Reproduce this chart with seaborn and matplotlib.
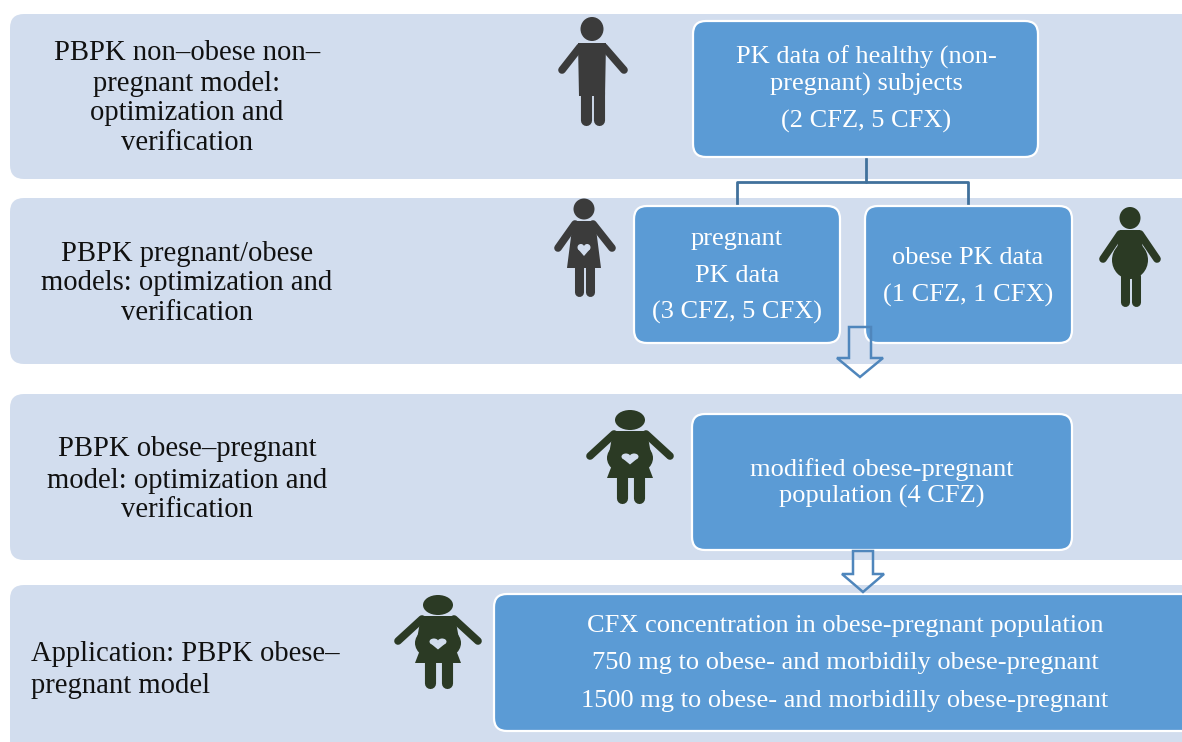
import seaborn as sns
from matplotlib import pyplot as plt
from matplotlib.patches import FancyBboxPatch, Ellipse, Polygon

# text of the diagram
band_labels = [
    ["PBPK non\u2013obese non\u2013", "pregnant model:", "optimization and", "verification"],
    ["PBPK pregnant/obese", "models: optimization and", "verification"],
    ["PBPK obese\u2013pregnant", "model: optimization and", "verification"],
    ["Application: PBPK obese\u2013", "pregnant model"],
]
box_labels = [
    ["PK data of healthy (non-", "pregnant) subjects", "(2 CFZ, 5 CFX)"],
    ["pregnant", "PK data", "(3 CFZ, 5 CFX)"],
    ["obese PK data", "(1 CFZ, 1 CFX)"],
    ["modified obese-pregnant", "population (4 CFZ)"],
    ["CFX concentration in obese-pregnant population",
     "750 mg to obese- and morbidily obese-pregnant",
     "1500 mg to obese- and morbidilly obese-pregnant"],
]

band_color = "#D2DDEE"
box_color = "#5B9BD5"
line_color = "#41719C"
grey_person = "#3B3B3B"
green_person = "#2B3A24"

sns.set_theme(style="white")
plt.rcParams['font.family'] = ['Liberation Serif', 'DejaVu Serif']

fig, ax = plt.subplots(figsize=(11.82, 7.42), dpi=100)
ax.set_position([0, 0, 1, 1])
ax.set_xlim(0, 1182)
ax.set_ylim(742, 0)
ax.axis('off')

# background bands
bands = [(10, 14, 1300, 165), (10, 198, 1300, 166), (10, 394, 1300, 166), (10, 585, 1300, 170)]
for x, y, w, h in bands:
    ax.add_patch(FancyBboxPatch((x + 14, y + 14), w - 28, h - 28, boxstyle="round,pad=14,rounding_size=14",
                                fc=band_color, ec='none', zorder=1))

# blue boxes
boxes = [(693, 21, 345, 136), (634, 206, 206, 137), (865, 206, 207, 137), (692, 414, 380, 136), (494, 594, 800, 137)]
for x, y, w, h in boxes:
    ax.add_patch(FancyBboxPatch((x + 13, y + 13), w - 26, h - 26, boxstyle="round,pad=13,rounding_size=13",
                                fc=box_color, ec='white', lw=1.6, zorder=3))

# connector
sns.lineplot(x=[866, 866], y=[158, 182], color=line_color, lw=2, ax=ax, zorder=2, estimator=None, sort=False)
sns.lineplot(x=[737, 737, 968, 968], y=[206, 182, 182, 206], color=line_color, lw=2, ax=ax, zorder=2,
             estimator=None, sort=False)


def down_arrow(left, right, top, neck, head_l, head_r, tip):
    mid = (head_l + head_r) / 2
    ax.add_patch(Polygon([(left, top), (right, top), (right, neck), (head_r, neck), (mid, tip),
                          (head_l, neck), (left, neck)], closed=True, fc='none', ec='#4F86BC', lw=1.8, zorder=4))


down_arrow(849, 871, 327, 358, 837, 883, 377)
down_arrow(853, 873, 551, 574, 842, 884, 592)


def limb(x0, y0, x1, y1, color, lw):
    ax.plot([x0, x1], [y0, y1], color=color, lw=lw, solid_capstyle='round', zorder=5)


def heart(cx, cy, w, h, color=band_color):
    # two lobes and a point
    ax.add_patch(Ellipse((cx - w * 0.24, cy - h * 0.22), w * 0.52, h * 0.56, fc=color, ec='none', zorder=6))
    ax.add_patch(Ellipse((cx + w * 0.24, cy - h * 0.22), w * 0.52, h * 0.56, fc=color, ec='none', zorder=6))
    ax.add_patch(Polygon([(cx - w * 0.49, cy - h * 0.12), (cx + w * 0.49, cy - h * 0.12), (cx, cy + h * 0.5)],
                         fc=color, ec='none', zorder=6))


def man(cx, color):
    ax.add_patch(Ellipse((cx, 29), 23, 24, fc=color, ec='none', zorder=5))
    ax.add_patch(Polygon([(cx - 14, 43), (cx + 14, 43), (cx + 13, 96), (cx - 13, 96)], fc=color, ec='none', zorder=5))
    limb(cx - 12, 47, cx - 30, 70, color, 5.5)
    limb(cx + 12, 47, cx + 32, 70, color, 5.5)
    limb(cx - 6.5, 92, cx - 6.5, 120, color, 8)
    limb(cx + 6.5, 92, cx + 6.5, 120, color, 8)


def pregnant(cx, color):
    ax.add_patch(Ellipse((cx, 209), 21, 21, fc=color, ec='none', zorder=5))
    ax.add_patch(Polygon([(cx - 11, 221), (cx + 11, 221), (cx + 17, 268), (cx - 17, 268)], fc=color, ec='none', zorder=5))
    limb(cx - 9, 224, cx - 26, 248, color, 5.5)
    limb(cx + 9, 224, cx + 28, 248, color, 5.5)
    limb(cx - 5, 266, cx - 5, 292, color, 6.5)
    limb(cx + 6, 266, cx + 6, 292, color, 6.5)
    heart(cx, 250, 13, 12)


def obese(cx, color):
    ax.add_patch(Ellipse((cx, 218), 21, 22, fc=color, ec='none', zorder=5))
    ax.add_patch(Polygon([(cx - 10, 230), (cx + 10, 230), (cx + 15, 262), (cx - 15, 262)], fc=color, ec='none', zorder=5))
    ax.add_patch(Ellipse((cx, 260), 36, 38, fc=color, ec='none', zorder=5))
    limb(cx - 10, 234, cx - 27, 259, color, 5.5)
    limb(cx + 10, 234, cx + 27, 259, color, 5.5)
    limb(cx - 5, 276, cx - 5, 302, color, 6.5)
    limb(cx + 6, 276, cx + 6, 302, color, 6.5)


def obese_pregnant(cx, dy, color):
    ax.add_patch(Ellipse((cx, 420 + dy), 30, 20, fc=color, ec='none', zorder=5))
    ax.add_patch(Polygon([(cx - 17, 431 + dy), (cx + 17, 431 + dy), (cx + 22, 460 + dy), (cx - 22, 460 + dy)],
                         fc=color, ec='none', zorder=5))
    ax.add_patch(Ellipse((cx, 458 + dy), 46, 34, fc=color, ec='none', zorder=5))
    ax.add_patch(Polygon([(cx - 18, 465 + dy), (cx + 18, 465 + dy), (cx + 23, 478 + dy), (cx - 23, 478 + dy)],
                         fc=color, ec='none', zorder=5))
    limb(cx - 16, 434 + dy, cx - 40, 456 + dy, color, 5.5)
    limb(cx + 16, 434 + dy, cx + 40, 456 + dy, color, 5.5)
    limb(cx - 8.5, 474 + dy, cx - 8.5, 498 + dy, color, 8)
    limb(cx + 8.5, 474 + dy, cx + 8.5, 498 + dy, color, 8)
    heart(cx, 459 + dy, 17, 11)


man(592, grey_person)
pregnant(584, grey_person)
obese(1130, green_person)
obese_pregnant(630, 0, green_person)
obese_pregnant(438, 185, green_person)

# text, one call per line, y is the baseline
band_ys = [[60, 91, 120, 150], [261, 290, 320], [456, 488, 517], [661, 693]]
for lines, ys, in zip(band_labels[:3], band_ys[:3]):
    for s, y in zip(lines, ys):
        ax.text(187, y, s, fontsize=20.6, color='#111111', ha='center', va='baseline', zorder=7)
for s, y in zip(band_labels[3], band_ys[3]):
    ax.text(31, y, s, fontsize=20.6, color='#111111', ha='left', va='baseline', zorder=7)

box_ys = [[64, 91, 128], [245, 282, 319], [264, 302], [476, 503], [632, 669, 707]]
box_cx = [866, 737, 968, 882, 845]
for lines, ys, cx in zip(box_labels, box_ys, box_cx):
    for s, y in zip(lines, ys):
        ax.text(cx, y, s, fontsize=19, color='white', ha='center', va='baseline', zorder=7)

fig.savefig('out.png', dpi=100)
